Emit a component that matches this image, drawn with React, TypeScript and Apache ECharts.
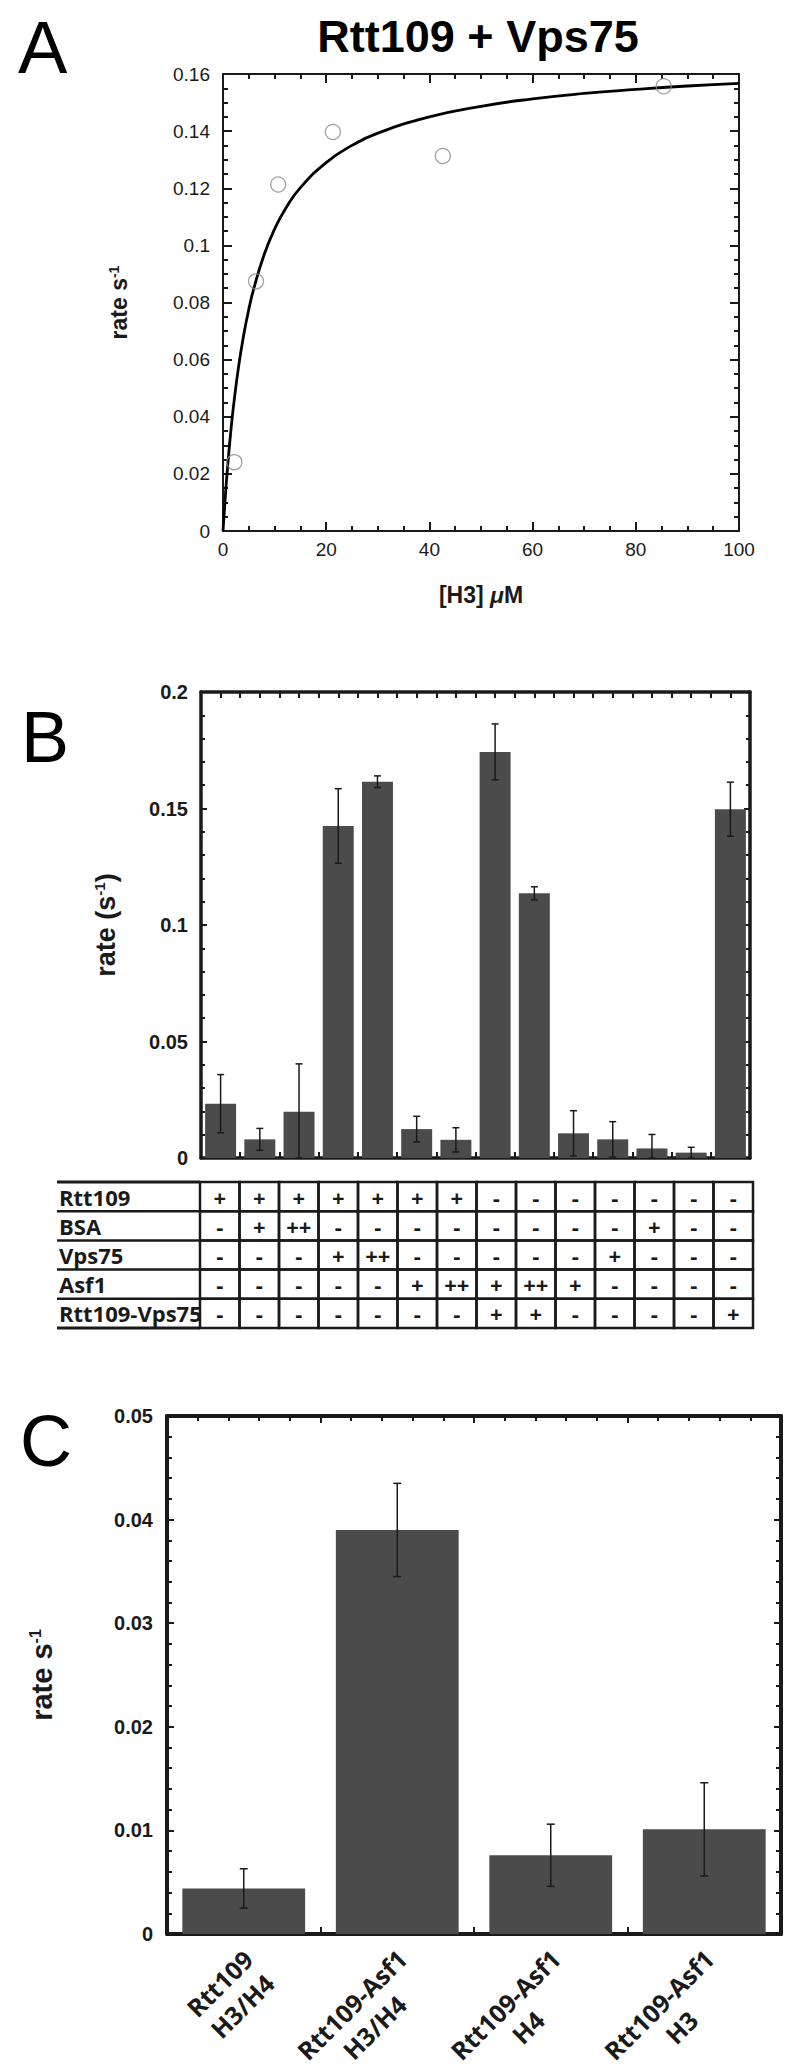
import React, { useEffect, useRef } from 'react';
import * as echarts from 'echarts';

// ---------- Panel A data ----------
const aCurveX = [0, 0.5, 1, 1.5, 2, 3, 4, 5, 6, 8, 10, 12, 15, 20, 25, 30, 40, 50, 60, 70, 80, 90, 100];
const aCurveY = [0, 0.0134, 0.0248, 0.0347, 0.0432, 0.0573, 0.0685, 0.0776, 0.0851, 0.0969, 0.1057, 0.1125, 0.1202, 0.129, 0.135, 0.1393, 0.145, 0.1487, 0.1513, 0.1532, 0.1546, 0.1558, 0.1567];
const aPointsX = [2.2, 6.4, 10.7, 21.3, 42.6, 85.4];
const aPointsY = [0.0241, 0.0874, 0.1213, 0.1397, 0.1313, 0.1557];

// ---------- Panel B data ----------
const bConditions = ['1', '2', '3', '4', '5', '6', '7', '8', '9', '10', '11', '12', '13', '14'];
const bValues = [0.0233, 0.008, 0.0199, 0.1425, 0.1615, 0.0124, 0.0078, 0.1743, 0.1136, 0.0106, 0.008, 0.0041, 0.0023, 0.1497];
const bErrors = [0.0125, 0.0047, 0.0205, 0.016, 0.0025, 0.0055, 0.0052, 0.012, 0.0028, 0.0097, 0.0076, 0.006, 0.0023, 0.0116];

// ---------- Table data ----------
const tableRowLabels = ['Rtt109', 'BSA', 'Vps75', 'Asf1', 'Rtt109-Vps75'];
const rowRtt109 = ['+', '+', '+', '+', '+', '+', '+', '-', '-', '-', '-', '-', '-', '-'];
const rowBSA = ['-', '+', '++', '-', '-', '-', '-', '-', '-', '-', '-', '+', '-', '-'];
const rowVps75 = ['-', '-', '-', '+', '++', '-', '-', '-', '-', '-', '+', '-', '-', '-'];
const rowAsf1 = ['-', '-', '-', '-', '-', '+', '++', '+', '++', '+', '-', '-', '-', '-'];
const rowRttVps = ['-', '-', '-', '-', '-', '-', '-', '+', '+', '-', '-', '-', '-', '+'];
const tableRows = [rowRtt109, rowBSA, rowVps75, rowAsf1, rowRttVps];

// ---------- Panel C data ----------
const cLabels = ['Rtt109\nH3/H4', 'Rtt109-Asf1\nH3/H4', 'Rtt109-Asf1\nH4', 'Rtt109-Asf1\nH3'];
const cValues = [0.0044, 0.039, 0.0076, 0.0101];
const cErrors = [0.0019, 0.0045, 0.003, 0.0045];

const INK = '#1a1a1a';
const BAR = '#4b4b4b';
const HELV = 'Liberation Sans, Arial, sans-serif';
const MYR = 'Open Sans, Noto Sans, sans-serif';

function frameAxis(opts: any) {
  const { lw, tickLen, minorLen, minorSplit, show } = opts;
  return {
    axisLine: { show: true, onZero: false, lineStyle: { color: INK, width: lw } },
    axisTick: { show: true, inside: true, length: tickLen, lineStyle: { color: INK, width: Math.min(lw, 2) } },
    minorTick: minorSplit
      ? { show: true, splitNumber: minorSplit, length: minorLen, lineStyle: { color: INK, width: Math.min(lw, 2) } }
      : { show: false },
    splitLine: { show: false },
    minorSplitLine: { show: false },
    axisLabel: { show: !!show },
  };
}

function errorRenderer(cap: number, width: number) {
  return (params: any, api: any) => {
    const i = api.value(0);
    const lo = api.coord([i, api.value(1)]);
    const hi = api.coord([i, api.value(2)]);
    const style = { stroke: INK, lineWidth: width };
    return {
      type: 'group',
      children: [
        { type: 'line', shape: { x1: lo[0], y1: lo[1], x2: hi[0], y2: hi[1] }, style },
        { type: 'line', shape: { x1: hi[0] - cap, y1: hi[1], x2: hi[0] + cap, y2: hi[1] }, style },
        { type: 'line', shape: { x1: lo[0] - cap, y1: lo[1], x2: lo[0] + cap, y2: lo[1] }, style },
      ],
    };
  };
}

function buildOption() {
  const tableData: number[][] = [];
  tableRows.forEach((row, r) => row.forEach((_, c) => tableData.push([c, r])));

  const yNameRich = (size: number, sup: number) => ({
    a: { fontSize: size, fontWeight: 'bold', fontFamily: HELV, color: INK },
    b: { fontSize: sup, fontWeight: 'bold', fontFamily: HELV, color: INK, verticalAlign: 'top' },
  });

  const cRichBase = { fontSize: 25, fontWeight: 'bold', fontFamily: MYR, color: INK, lineHeight: 32, align: 'center' };

  return {
    animation: false,
    backgroundColor: '#ffffff',
    grid: [
      { left: 223, top: 74, width: 516, height: 457, outerBoundsMode: 'none', containLabel: false },
      { left: 201, top: 692, width: 549, height: 466, outerBoundsMode: 'none', containLabel: false },
      { left: 200, top: 1182, width: 553, height: 146, outerBoundsMode: 'none', containLabel: false },
      { left: 167, top: 1416, width: 614, height: 518, outerBoundsMode: 'none', containLabel: false },
    ],
    graphic: [
      { type: 'text', x: 18, y: 47, style: { text: 'A', fontSize: 74, fontFamily: HELV, fill: '#000', align: 'left', verticalAlign: 'middle' } },
      { type: 'text', x: 478, y: 36, style: { text: 'Rtt109 + Vps75', fontSize: 45, fontWeight: 'bold', fontFamily: HELV, fill: '#000', align: 'center', verticalAlign: 'middle' } },
      { type: 'text', x: 21, y: 737, style: { text: 'B', fontSize: 72, fontFamily: HELV, fill: '#000', align: 'left', verticalAlign: 'middle' } },
      { type: 'text', x: 20, y: 1441, style: { text: 'C', fontSize: 72, fontFamily: HELV, fill: '#000', align: 'left', verticalAlign: 'middle' } },
    ],
    xAxis: [
      {
        type: 'value', gridIndex: 0, min: 0, max: 100, interval: 20, position: 'bottom',
        ...frameAxis({ lw: 2, tickLen: 9, minorLen: 5, minorSplit: 4, show: true }),
        axisLabel: { show: true, fontSize: 19, fontFamily: HELV, color: INK, margin: 9 },
        name: '{a|[H3] }{i|μ}{a|M}', nameLocation: 'middle', nameGap: 52,
        nameTextStyle: {
          rich: {
            a: { fontSize: 23, fontWeight: 'bold', fontFamily: HELV, color: INK },
            i: { fontSize: 23, fontWeight: 'bold', fontStyle: 'italic', fontFamily: HELV, color: INK },
          },
        },
      },
      {
        type: 'value', gridIndex: 0, min: 0, max: 100, interval: 20, position: 'top',
        ...frameAxis({ lw: 2, tickLen: 9, minorLen: 5, minorSplit: 4, show: false }),
      },
      {
        type: 'category', gridIndex: 1, data: bConditions, position: 'bottom',
        ...frameAxis({ lw: 3.5, tickLen: 6, show: false }),
        axisTick: { show: true, inside: true, length: 6, interval: 0, lineStyle: { color: INK, width: 2 } },
      },
      {
        type: 'value', gridIndex: 1, min: 0, max: 14, interval: 0.5, position: 'top',
        ...frameAxis({ lw: 3.5, tickLen: 6, show: false }),
      },
      { type: 'category', gridIndex: 2, data: bConditions, show: false },
      {
        type: 'category', gridIndex: 3, data: cLabels, position: 'bottom',
        ...frameAxis({ lw: 4, tickLen: 7, show: true }),
        axisTick: { show: true, inside: true, length: 7, interval: 0, lineStyle: { color: INK, width: 2 } },
        axisLabel: {
          show: true, interval: 0, rotate: 45, margin: 15, padding: [46, 0, 0, 0],
          formatter: (val: string, idx: number) =>
            val.split('\n').map((l) => `{${idx === 0 ? 's' : 'l'}|${l}}`).join('\n'),
          rich: {
            s: { ...cRichBase, width: 83 },
            l: { ...cRichBase, width: 143 },
          },
        },
      },
      {
        type: 'value', gridIndex: 3, min: 0, max: 4, interval: 1, position: 'top',
        ...frameAxis({ lw: 4, tickLen: 7, minorLen: 5, minorSplit: 5, show: false }),
      },
    ],
    yAxis: [
      {
        type: 'value', gridIndex: 0, min: 0, max: 0.16, interval: 0.02, position: 'left',
        ...frameAxis({ lw: 2, tickLen: 9, minorLen: 5, minorSplit: 4, show: true }),
        axisLabel: { show: true, fontSize: 19, fontFamily: HELV, color: INK, margin: 13 },
        name: '{a|rate s}{b|-1}', nameLocation: 'middle', nameRotate: 90, nameGap: 93,
        nameTextStyle: { rich: yNameRich(23, 14) },
      },
      {
        type: 'value', gridIndex: 0, min: 0, max: 0.16, interval: 0.02, position: 'right',
        ...frameAxis({ lw: 2, tickLen: 9, minorLen: 5, minorSplit: 4, show: false }),
      },
      {
        type: 'value', gridIndex: 1, min: 0, max: 0.2, interval: 0.05, position: 'left',
        ...frameAxis({ lw: 3.5, tickLen: 6, minorLen: 4, minorSplit: 5, show: true }),
        axisLabel: { show: true, fontSize: 20, fontWeight: 'bold', fontFamily: HELV, color: INK, margin: 13 },
        name: '{a|rate (s}{b|-1}{a|)}', nameLocation: 'middle', nameRotate: 90, nameGap: 82,
        nameTextStyle: { rich: yNameRich(27, 15) },
      },
      {
        type: 'value', gridIndex: 1, min: 0, max: 0.2, interval: 0.05, position: 'right',
        ...frameAxis({ lw: 3.5, tickLen: 6, minorLen: 4, minorSplit: 5, show: false }),
      },
      {
        type: 'category', gridIndex: 2, data: tableRowLabels, inverse: true,
        axisLine: { show: false }, axisTick: { show: false }, splitLine: { show: false },
        axisLabel: { show: true, align: 'left', margin: 141, fontSize: 22, fontWeight: 'bold', fontFamily: MYR, color: INK },
      },
      {
        type: 'value', gridIndex: 3, min: 0, max: 0.05, interval: 0.01, position: 'left',
        ...frameAxis({ lw: 4, tickLen: 7, minorLen: 5, minorSplit: 5, show: true }),
        axisLabel: { show: true, fontSize: 20, fontWeight: 'bold', fontFamily: HELV, color: INK, margin: 14 },
        name: '{a|rate s}{b|-1}', nameLocation: 'middle', nameRotate: 90, nameGap: 111,
        nameTextStyle: { rich: yNameRich(29, 16) },
      },
      {
        type: 'value', gridIndex: 3, min: 0, max: 0.05, interval: 0.01, position: 'right',
        ...frameAxis({ lw: 4, tickLen: 7, minorLen: 5, minorSplit: 5, show: false }),
      },
    ],
    series: [
      {
        type: 'line', xAxisIndex: 0, yAxisIndex: 0, smooth: true, symbol: 'none',
        lineStyle: { color: '#000', width: 2.8 },
        data: aCurveX.map((x, i) => [x, aCurveY[i]]),
        z: 3,
      },
      {
        type: 'scatter', xAxisIndex: 0, yAxisIndex: 0, symbol: 'circle', symbolSize: 15,
        itemStyle: { color: 'rgba(255,255,255,0)', borderColor: '#8a8a8a', borderWidth: 1.3 },
        data: aPointsX.map((x, i) => [x, aPointsY[i]]),
        z: 4,
      },
      {
        type: 'bar', xAxisIndex: 2, yAxisIndex: 2, barCategoryGap: '21%',
        itemStyle: { color: BAR },
        data: bValues,
      },
      {
        type: 'custom', xAxisIndex: 2, yAxisIndex: 2,
        renderItem: errorRenderer(3.5, 1.5),
        encode: { x: 0, y: [1, 2] },
        data: bValues.map((v, i) => [i, Math.max(0, v - bErrors[i]), v + bErrors[i]]),
        z: 5,
      },
      {
        type: 'custom', xAxisIndex: 4, yAxisIndex: 4,
        encode: { x: 0, y: 1 },
        data: tableData,
        renderItem: (params: any, api: any) => {
          const col = api.value(0);
          const row = api.value(1);
          const c = api.coord([col, row]);
          const s = api.size([1, 1]);
          const x0 = c[0] - s[0] / 2;
          const y0 = c[1] - s[1] / 2;
          const st = { stroke: INK, lineWidth: 2.5, fill: 'none' };
          const children: any[] = [
            { type: 'rect', shape: { x: x0, y: y0, width: s[0], height: s[1] }, style: st },
            {
              type: 'text', x: c[0], y: c[1],
              style: { text: tableRows[row][col], fontSize: 22, fontWeight: 'bold', fontFamily: MYR, fill: INK, align: 'center', verticalAlign: 'middle' },
            },
          ];
          if (col === 0) {
            const lx = params.coordSys.x - 143;
            children.push({ type: 'line', shape: { x1: lx, y1: y0, x2: x0, y2: y0 }, style: { stroke: INK, lineWidth: row === 0 ? 3 : 2.5 } });
            if (row === tableRows.length - 1) {
              children.push({ type: 'line', shape: { x1: lx, y1: y0 + s[1], x2: x0, y2: y0 + s[1] }, style: { stroke: INK, lineWidth: 3 } });
            }
          }
          return { type: 'group', children };
        },
      },
      {
        type: 'bar', xAxisIndex: 5, yAxisIndex: 5, barCategoryGap: '20%',
        itemStyle: { color: BAR },
        data: cValues,
      },
      {
        type: 'custom', xAxisIndex: 5, yAxisIndex: 5,
        renderItem: errorRenderer(4, 1.5),
        encode: { x: 0, y: [1, 2] },
        data: cValues.map((v, i) => [i, Math.max(0, v - cErrors[i]), v + cErrors[i]]),
        z: 5,
      },
    ],
  };
}

export default function App() {
  const ref = useRef<HTMLDivElement>(null);
  useEffect(() => {
    if (!ref.current) return;
    const chart = echarts.init(ref.current, undefined, { renderer: 'svg' });
    chart.setOption(buildOption() as any);
    return () => chart.dispose();
  }, []);
  return (
    <div
      ref={ref}
      style={{ position: 'absolute', left: 0, top: 0, width: 800, height: 2071, background: '#fff' }}
    />
  );
}
